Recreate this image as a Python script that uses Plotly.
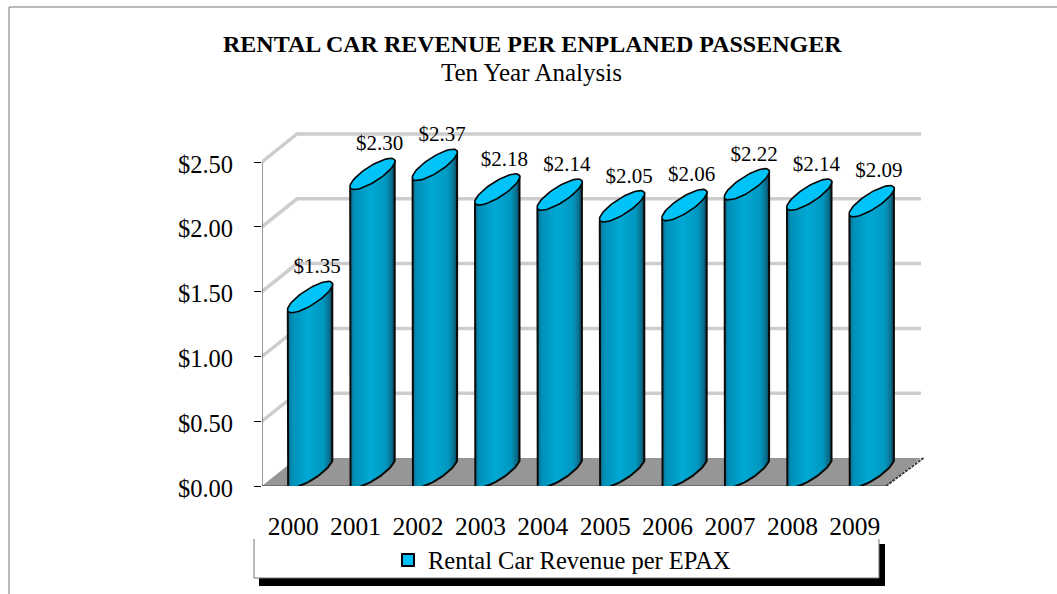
import numpy as np
import plotly.graph_objects as go

years = ["2000", "2001", "2002", "2003", "2004", "2005", "2006", "2007", "2008", "2009"]
values = [1.35, 2.30, 2.37, 2.18, 2.14, 2.05, 2.06, 2.22, 2.14, 2.09]
y_ticks = [0, 0.5, 1.0, 1.5, 2.0, 2.5]
y_labels = ["$0.00", "$0.50", "$1.00", "$1.50", "$2.00", "$2.50"]
series_name = "Rental Car Revenue per EPAX"
title = "RENTAL CAR REVENUE PER ENPLANED PASSENGER"
subtitle = "Ten Year Analysis"

W, H = 1057, 594
L, R, T, B = 262, 925, 125, 486
PX_X = 62.4          # px per category
PX_Y = 129.6         # px per dollar
x_rng = [-0.5, -0.5 + (R - L) / PX_X]
y_rng = [0, (B - T) / PX_Y]
FONT = "Liberation Serif"

dx = 35 / PX_X       # wall depth
dy = 28 / PX_Y
BAR_L = -5.4 / PX_X
BAR_W = 44.5 / PX_X
BAR_DY = 28 / PX_Y
A = np.array([BAR_W / 2, BAR_DY / 2])
Bv = np.array([3.5 / PX_X, -7 / PX_Y])


def px(x):
    return (x - L) / (R - L)


def py(y):
    return (B - y) / (B - T)


def ellipse(i, v, t):
    cx = i + BAR_L + BAR_W / 2
    cy = v + BAR_DY / 2
    return cx + np.cos(t) * A[0] + np.sin(t) * Bv[0], cy + np.cos(t) * A[1] + np.sin(t) * Bv[1]


fig = go.Figure()

# floor
fig.add_trace(go.Scatter(
    x=[-0.5, -0.5 + dx, 9.5 + dx, 9.5, -0.5], y=[0, dy, dy, 0, 0], mode="lines",
    fill="toself", fillcolor="#969696", line=dict(width=0), hoverinfo="skip", showlegend=False))

# gridlines on side and back walls
for v in y_ticks[1:]:
    fig.add_trace(go.Scatter(
        x=[-0.5, -0.5 + dx, 9.5 + dx], y=[v, v + dy, v + dy], mode="lines",
        line=dict(color="#cdcdcd", width=3.5), hoverinfo="skip", showlegend=False))

# floor edges
fig.add_trace(go.Scatter(x=[9.5, 9.5 + dx + 0.04], y=[0, dy], mode="lines",
                         line=dict(color="#3c3c3c", width=2, dash="3px,1px"),
                         hoverinfo="skip", showlegend=False))
fig.add_trace(go.Scatter(x=[-0.5, 9.5], y=[-1 / PX_Y, -1 / PX_Y], mode="lines", cliponaxis=False,
                         line=dict(color="#4a4a4a", width=3), hoverinfo="skip", showlegend=False))
# value axis line
fig.add_trace(go.Scatter(x=[-0.5 - 1.5 / PX_X] * 2, y=[0, 2.5], mode="lines", cliponaxis=False,
                         line=dict(color="#333333", width=4), hoverinfo="skip", showlegend=False))

# bars
grad = [[0, "#0a6d8d"], [0.1, "#0090b8"], [0.45, "#00a9d4"], [0.8, "#0097bf"], [0.93, "#0a6f8e"], [1, "#0a3c50"]]
for i, v in enumerate(values):
    left = i + BAR_L
    right = left + BAR_W
    t_low = np.linspace(-np.pi, 0, 40)
    low_x, low_y = ellipse(i, 0, -t_low)
    xs = [left] + list(low_x) + [right] + [right, left, left]
    ys = [v] + list(low_y) + [v + BAR_DY] + [v + BAR_DY, v, v]
    fig.add_trace(go.Scatter(
        x=xs, y=ys, mode="lines", fill="toself", line=dict(color="#0a0a0a", width=2),
        fillgradient=dict(type="horizontal", colorscale=grad),
        hoverinfo="skip", showlegend=False))
    t = np.linspace(0, 2 * np.pi, 60)
    ex, ey = ellipse(i, v, t)
    fig.add_trace(go.Scatter(
        x=ex, y=ey, mode="lines", fill="toself", fillcolor="#00c3f7",
        line=dict(color="#050505", width=1.6), hoverinfo="skip", showlegend=False))

# data labels
fig.add_trace(go.Scatter(
    x=[i + 24 / PX_X for i in range(len(values))],
    y=[v + 43 / PX_Y for v in values],
    mode="text", text=[f"${v:.2f}" for v in values], textposition="middle center",
    textfont=dict(family=FONT, size=21, color="#000000"),
    cliponaxis=False, hoverinfo="skip", showlegend=False))

# legend key
fig.add_trace(go.Scatter(
    x=[None], y=[None], mode="markers", name=series_name,
    marker=dict(symbol="square", size=12, color="#00bfff", line=dict(color="#000000", width=2))))

frame = dict(color="#777777", width=1)
shapes = [
    # outer chart frame
    dict(type="line", xref="paper", yref="paper", x0=px(9), x1=px(1057), y0=py(7), y1=py(7), line=frame),
    dict(type="line", xref="paper", yref="paper", x0=px(9), x1=px(9), y0=py(7), y1=py(594), line=frame),
    # legend shadow and box
    dict(type="rect", xref="paper", yref="paper", x0=px(259), x1=px(885), y0=py(544), y1=py(586),
         fillcolor="#000000", line=dict(width=0), layer="below"),
    dict(type="rect", xref="paper", yref="paper", x0=px(254), x1=px(879), y0=py(539), y1=py(578),
         fillcolor="#ffffff", line=dict(width=0), layer="below"),
    dict(type="line", xref="paper", yref="paper", x0=px(254), x1=px(254), y0=py(539), y1=py(578), line=frame, layer="below"),
    dict(type="line", xref="paper", yref="paper", x0=px(254), x1=px(879), y0=py(578), y1=py(578), line=frame, layer="below"),
    dict(type="line", xref="paper", yref="paper", x0=px(879), x1=px(879), y0=py(539), y1=py(578), line=frame, layer="below"),
]

annotations = [
    dict(text=f"<b>{title}</b>", xref="paper", yref="paper", x=px(532.5), y=py(44),
         xanchor="center", yanchor="middle", showarrow=False,
         font=dict(family=FONT, size=24, color="#000000")),
    dict(text=subtitle, xref="paper", yref="paper", x=px(531.5), y=py(72),
         xanchor="center", yanchor="middle", showarrow=False,
         font=dict(family=FONT, size=25, color="#000000")),
]

fig.update_layout(
    width=W, height=H, margin=dict(l=L, r=W - R, t=T, b=H - B, pad=0, autoexpand=False),
    paper_bgcolor="#ffffff", plot_bgcolor="rgba(0,0,0,0)",
    shapes=shapes, annotations=annotations, showlegend=True,
    legend=dict(x=px(562), y=py(560), xanchor="center", yanchor="middle",
                bgcolor="rgba(0,0,0,0)", borderwidth=0,
                font=dict(family=FONT, size=24.5, color="#000000"), itemwidth=30),
    xaxis=dict(range=x_rng, tickmode="array", tickvals=list(range(len(years))), ticktext=years,
               showgrid=False, zeroline=False, showline=False, ticks="",
               ticklabelstandoff=22, tickfont=dict(family=FONT, size=25.5, color="#000000")),
    yaxis=dict(range=y_rng, tickmode="array", tickvals=y_ticks, ticktext=y_labels,
               showgrid=False, zeroline=False, showline=False, ticks="outside", ticklen=7,
               tickwidth=1, tickcolor="#000000", ticklabelstandoff=16, ticklabelshift=2,
               tickfont=dict(family=FONT, size=24.5, color="#000000")),
)

fig.write_html("out.html", post_script="document.body.style.margin='0';",
               config={"displayModeBar": False})
